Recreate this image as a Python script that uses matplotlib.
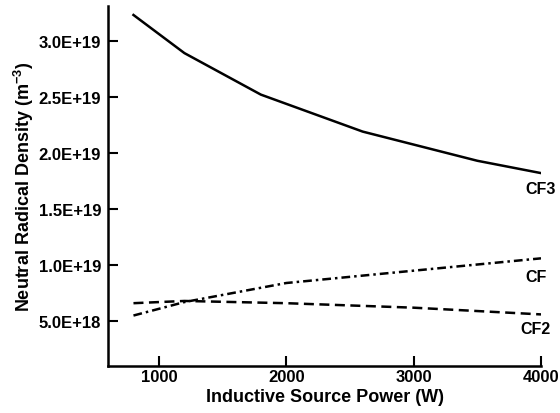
import matplotlib.pyplot as plt
import numpy as np

plt.rcParams['font.family'] = ['Liberation Sans', 'DejaVu Sans']
plt.rcParams['font.weight'] = 'bold'
plt.rcParams['mathtext.fontset'] = 'custom'
plt.rcParams['mathtext.bf'] = 'Liberation Sans:bold'
plt.rcParams['mathtext.rm'] = 'Liberation Sans:bold'
plt.rcParams['mathtext.default'] = 'bf'

# data
power = [800, 1200, 1800, 2600, 3500, 4000]
cf3 = [3.23e19, 2.89e19, 2.52e19, 2.19e19, 1.93e19, 1.82e19]

power2 = [800, 1200, 2000, 3000, 4000]
cf = [5.5e18, 6.7e18, 8.4e18, 9.5e18, 1.06e19]
cf2 = [6.6e18, 6.8e18, 6.6e18, 6.2e18, 5.6e18]

yticks = [5e18, 1e19, 1.5e19, 2e19, 2.5e19, 3e19]
ytick_labels = ['5.0E+18', '1.0E+19', '1.5E+19', '2.0E+19', '2.5E+19', '3.0E+19']
xticks = [1000, 2000, 3000, 4000]

fig = plt.figure(figsize=(5.6, 4.14), dpi=100)
ax = fig.add_axes([108/560, 47/414, (541-108)/560, (407-47)/414])

ax.plot(power, cf3, color='black', lw=1.8, solid_joinstyle='round')
ax.plot(power2, cf, color='black', lw=1.8, dashes=(3.5, 1.6, 1, 1.6))
ax.plot(power2, cf2, color='black', lw=1.8, dashes=(4, 2.2))

# line labels
ax.text(4000, 1.68e19, 'CF3', ha='center', va='center', fontsize=11.5, fontweight='bold')
ax.text(3960, 9.0e18, 'CF', ha='center', va='center', fontsize=11.5, fontweight='bold')
ax.text(3960, 4.3e18, 'CF2', ha='center', va='center', fontsize=11.5, fontweight='bold')

ax.set_xlim(600, 4000)
ax.set_ylim(1e18, 3.31e19)
ax.set_xticks(xticks)
ax.set_yticks(yticks)
ax.set_yticklabels(ytick_labels)
ax.tick_params(direction='in', length=7, width=1.5, labelsize=12)
ax.tick_params(axis='y', pad=5)
ax.tick_params(axis='x', pad=2)
for lab in ax.get_xticklabels() + ax.get_yticklabels():
    lab.set_fontweight('bold')

for s in ['top', 'right']:
    ax.spines[s].set_visible(False)
for s in ['left', 'bottom']:
    ax.spines[s].set_linewidth(1.8)

ax.set_xlabel('Inductive Source Power (W)', fontsize=13, fontweight='bold', labelpad=3)
ax.set_ylabel('Neutral Radical Density (m$^{-3}$)', fontsize=13, fontweight='bold', labelpad=2)

fig.savefig('out.png', dpi=100)
